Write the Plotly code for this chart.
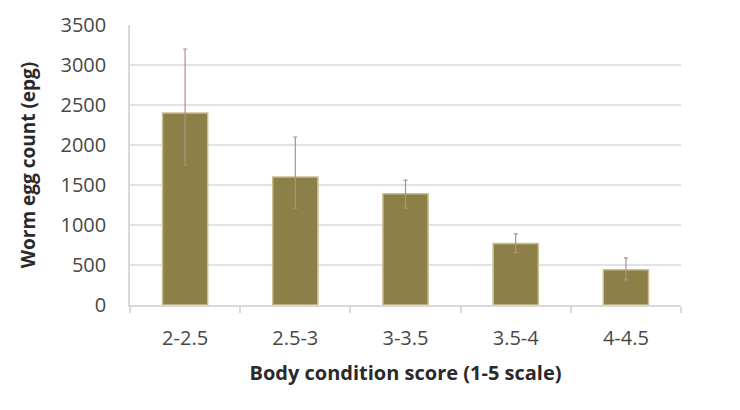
import plotly.graph_objects as go

categories = ["2-2.5", "2.5-3", "3-3.5", "3.5-4", "4-4.5"]
means = [2400, 1600, 1390, 770, 440]
err_plus = [800, 500, 170, 120, 150]
err_minus = [650, 390, 180, 115, 125]
y_ticks = [0, 500, 1000, 1500, 2000, 2500, 3000, 3500]

fig = go.Figure()
fig.add_trace(go.Bar(
    x=categories, y=means,
    marker=dict(color="#8C7F47", line=dict(color="#C8BE92", width=1.5)),
    error_y=dict(type="data", symmetric=False, array=err_plus, arrayminus=err_minus,
                 color="#B58C88", thickness=1.2, width=2),
    width=0.41,
))
font = "Open Sans, Liberation Sans, sans-serif"
fig.update_layout(
    width=740, height=410,
    margin=dict(l=130, r=59, t=25, b=105),
    paper_bgcolor="white", plot_bgcolor="white",
    showlegend=False,
    font=dict(family=font, color="#444444", size=20),
    xaxis=dict(
        showline=True, linecolor="#D9D9D9", linewidth=1.5,
        ticks="outside", tickson="boundaries", ticklen=6, tickcolor="#D9D9D9", tickwidth=1.5,
        ticklabelstandoff=14,
        tickfont=dict(size=20, color="#484848"),
        title=dict(text="<b>Body condition score (1-5 scale)</b>",
                   font=dict(size=20, color="#2a2a2a"), standoff=16),
    ),
    yaxis=dict(
        range=[0, 3500], tickvals=y_ticks, showgrid=True, gridcolor="#E3E3E3", gridwidth=1.5,
        showline=True, linecolor="#D9D9D9", linewidth=1.5, zeroline=False,
        tickfont=dict(size=20, color="#484848"), ticklen=18, ticks="outside", tickcolor="rgba(0,0,0,0)",
        title=dict(text="<b>Worm egg count (epg)</b>", font=dict(size=19, color="#2a2a2a"), standoff=20),
    ),
)
fig.write_html("out.html")
